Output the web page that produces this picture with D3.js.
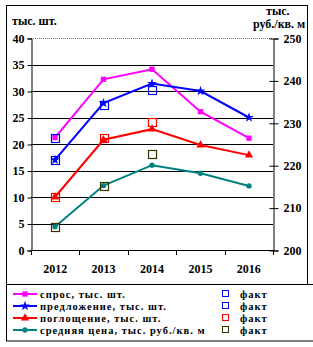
<!DOCTYPE html>
<html>
<head>
<meta charset="utf-8">
<script src="https://cdn.jsdelivr.net/npm/d3@7"></script>
<style>
  body { margin: 0; background: #fff; }
  text { font-family: "Liberation Serif", "Times New Roman", serif; font-weight: bold; font-size: 12px; fill: #000; }
  .legend { font-size: 10.5px; letter-spacing: 1px; }
</style>
</head>
<body>
<svg width="313" height="347"></svg>
<script>
// data
var years = ["2012", "2013", "2014", "2015", "2016"];
var demand = [21.2, 32.2, 34.1, 26.1, 21.1];        // спрос
var supply = [17.0, 27.7, 31.4, 30.0, 25.0];        // предложение
var absorption = [10.0, 20.8, 22.8, 19.8, 17.9];    // поглощение
var price = [205.5, 215.2, 220.0, 218.1, 215.1];    // средняя цена (right axis)
var demandFact = [21.2, null, null, null, null];
var supplyFact = [17.0, 27.3, 30.2, null, null];
var absorptionFact = [10.0, 21.1, 24.1, null, null];
var priceFact = [205.5, 215.2, 222.7, null, null];
var leftTicks = [0, 5, 10, 15, 20, 25, 30, 35, 40];
var rightTicks = [200, 210, 220, 230, 240, 250];

var svg = d3.select("svg");

// frames
svg.append("rect").attr("x", 6.5).attr("y", 5.5).attr("width", 301).attr("height", 279)
  .attr("fill", "none").attr("stroke", "#000");
svg.append("rect").attr("x", 6.5).attr("y", 284.5).attr("width", 320).attr("height", 56.5)
  .attr("fill", "none").attr("stroke", "#000");

// scales
var x = d3.scalePoint().domain(years).range([55, 249]);
var xBand = d3.scaleBand().domain(years).range([31, 273]);
var y = d3.scaleLinear().domain([0, 40]).range([250, 38]);
var y2 = d3.scaleLinear().domain([200, 250]).range([250, 38]);

// grid
svg.selectAll(".grid").data(leftTicks.filter(function(d) { return d > 0 && d < 40; }))
  .enter().append("line")
  .attr("x1", 31).attr("x2", 273)
  .attr("y1", function(d) { return Math.round(y(d)) + 0.5; })
  .attr("y2", function(d) { return Math.round(y(d)) + 0.5; })
  .attr("stroke", "#000");
svg.append("line").attr("x1", 31).attr("x2", 273).attr("y1", y(40) + 0.5).attr("y2", y(40) + 0.5)
  .attr("stroke", "#777").attr("stroke-dasharray", "1,1");

// left axis
var gl = svg.append("g").attr("transform", "translate(31.5,0.5)")
  .call(d3.axisLeft(y).tickValues(leftTicks).tickSize(4).tickPadding(3).tickFormat(d3.format("d")));
gl.select(".domain").attr("stroke", "#000");
gl.selectAll("text").attr("font-family", null).attr("font-size", null);

// right axis
var gr = svg.append("g").attr("transform", "translate(273.5,0.5)")
  .call(d3.axisRight(y2).tickValues(rightTicks).tickSize(5).tickPadding(5).tickFormat(d3.format("d")));
gr.selectAll(".tick line").attr("x1", -4);
gr.selectAll("text").attr("font-family", null).attr("font-size", null);

// x axis
var gx = svg.append("g").attr("transform", "translate(0,250.5)")
  .call(d3.axisBottom(xBand).tickSize(0).tickPadding(14));
gx.select(".domain").attr("d", "M31,0H273");
gx.selectAll("text").attr("font-family", null).attr("font-size", null);
svg.selectAll(".xtick").data([31, 79.4, 127.8, 176.2, 224.6, 273]).enter().append("line")
  .attr("x1", function(d) { return Math.round(d) + 0.5; })
  .attr("x2", function(d) { return Math.round(d) + 0.5; })
  .attr("y1", 250).attr("y2", 255).attr("stroke", "#000");

// axis titles
svg.append("text").attr("x", 12).attr("y", 25).text("тыс. шт.");
svg.append("text").attr("x", 266).attr("y", 15).text("тыс.");
svg.append("text").attr("x", 253).attr("y", 28).text("руб./кв. м");

var series = [
  { name: "спрос, тыс. шт.", values: demand, color: "#ff00ff", sym: d3.symbolSquare, size: 28, scale: y },
  { name: "предложение, тыс. шт.", values: supply, color: "#0000ff", sym: d3.symbolStar, size: 30, scale: y },
  { name: "поглощение, тыс. шт.", values: absorption, color: "#ff0000", sym: d3.symbolTriangle, size: 30, scale: y },
  { name: "средняя цена, тыс. руб./кв. м", values: price, color: "#008080", sym: d3.symbolCircle, size: 22, scale: y2 }
];
var facts = [
  { values: demandFact, color: "#0000ff", scale: y },
  { values: supplyFact, color: "#0000ff", scale: y },
  { values: absorptionFact, color: "#ff0000", scale: y },
  { values: priceFact, color: "#333300", scale: y2 }
];

series.forEach(function(s) {
  var line = d3.line()
    .x(function(d, i) { return x(years[i]); })
    .y(function(d) { return s.scale(d); });
  svg.append("path").datum(s.values).attr("d", line)
    .attr("fill", "none").attr("stroke", s.color).attr("stroke-width", 2);
  svg.selectAll(null).data(s.values).enter().append("path")
    .attr("transform", function(d, i) { return "translate(" + x(years[i]) + "," + s.scale(d) + ")"; })
    .attr("d", d3.symbol().type(s.sym).size(s.size))
    .attr("fill", s.color);
});

facts.forEach(function(f) {
  svg.selectAll(null).data(f.values.map(function(v, i) { return { v: v, year: years[i] }; })
      .filter(function(d) { return d.v != null; }))
    .enter().append("rect")
    .attr("x", function(d) { return Math.round(x(d.year)) - 3.5; })
    .attr("y", function(d) { return Math.round(f.scale(d.v)) - 3.5; })
    .attr("width", 8).attr("height", 8)
    .attr("fill", "none").attr("stroke", f.color).attr("stroke-width", 1.2);
});

// legend
series.forEach(function(s, i) {
  var ly = 294 + i * 12;
  svg.append("line").attr("x1", 13).attr("x2", 37).attr("y1", ly).attr("y2", ly)
    .attr("stroke", s.color).attr("stroke-width", 2);
  svg.append("path").attr("transform", "translate(25," + ly + ")")
    .attr("d", d3.symbol().type(s.sym).size(s.size)).attr("fill", s.color);
  svg.append("text").attr("class", "legend").attr("x", 40).attr("y", ly + 4).text(s.name);
  svg.append("rect").attr("x", 222.5).attr("y", ly - 3.5).attr("width", 6).attr("height", 6)
    .attr("fill", "none").attr("stroke", facts[i].color);
  svg.append("text").attr("class", "legend").attr("x", 240).attr("y", ly + 4).text("факт");
});
</script>
</body>
</html>
